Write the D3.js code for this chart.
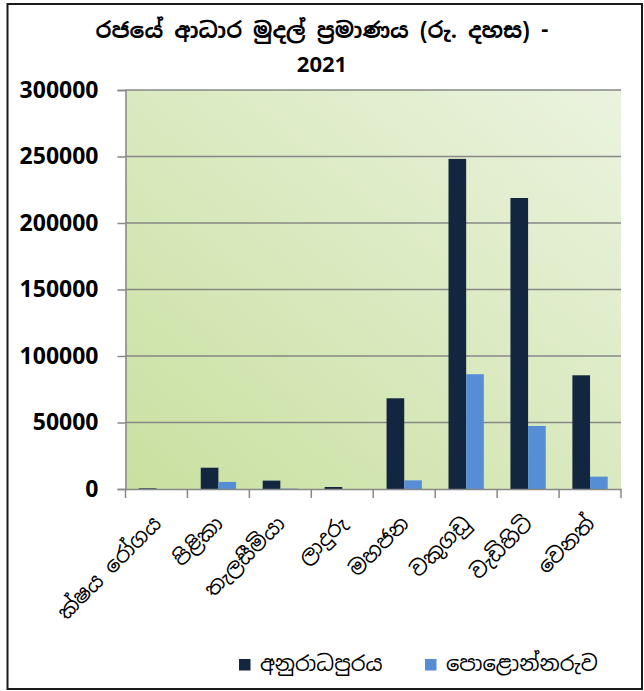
<!DOCTYPE html>
<html>
<head>
<meta charset="utf-8">
<script src="https://cdn.jsdelivr.net/npm/d3@7"></script>
<style>
  html, body { margin: 0; padding: 0; background: #fff; }
  svg { display: block; }
  text { font-family: "Noto Sans Sinhala", "Iskoola Pota", "Noto Sans", "Open Sans", sans-serif; }
</style>
</head>
<body>
<svg id="chart" width="644" height="691"></svg>
<script>
const titleLines = ["රජයේ ආධාර  මුදල් ප්‍රමාණය (රු. දහස) -", "2021"];
const categories = ["ක්ෂය රෝගය", "පිළිකා", "තැලසීමියා", "ලාදුරු", "මහජන", "වකුගඩු", "වැඩිහිටි", "වෙනත්"];
const seriesNames = ["අනුරාධපුරය", "පොළොන්නරුව"];
const anuradhapura = [500, 16000, 6300, 1500, 68200, 248200, 218800, 85500];
const polonnaruwa = [0, 5300, 300, 0, 6500, 86300, 47400, 9300];
const yTicks = [0, 50000, 100000, 150000, 200000, 250000, 300000];
const colors = ["#12263F", "#558ED5"];

const svg = d3.select("#chart");
const plot = { left: 125.5, right: 621, top: 90, bottom: 489 };

// outer frame
svg.append("rect").attr("x", 7.5).attr("y", 4).attr("width", 634.5).attr("height", 685)
  .attr("fill", "#fff").attr("stroke", "#1a1a1a").attr("stroke-width", 2);

// gradient background for plot area
const defs = svg.append("defs");
const grad = defs.append("linearGradient").attr("id", "bg")
  .attr("x1", "0%").attr("y1", "100%").attr("x2", "100%").attr("y2", "0%");
grad.append("stop").attr("offset", "0%").attr("stop-color", "#C9E0A0");
grad.append("stop").attr("offset", "100%").attr("stop-color", "#EBF3DF");

svg.append("rect").attr("x", plot.left).attr("y", plot.top)
  .attr("width", plot.right - plot.left).attr("height", plot.bottom - plot.top)
  .attr("fill", "url(#bg)");

const x0 = d3.scaleBand().domain(categories).range([plot.left, plot.right]).padding(0);
const inset = x0.bandwidth() * 0.215;
const x1 = d3.scaleBand().domain(seriesNames).range([inset, x0.bandwidth() - inset]).padding(0);
const y = d3.scaleLinear().domain([0, 300000]).range([plot.bottom, plot.top]);

// gridlines
svg.append("g").selectAll("line").data(yTicks.filter(d => d > 0)).join("line")
  .attr("x1", plot.left).attr("x2", plot.right)
  .attr("y1", d => y(d)).attr("y2", d => y(d))
  .attr("stroke", "#878787").attr("stroke-width", 1.5);

// bars
const data = categories.map((c, i) => ({ cat: c, vals: [anuradhapura[i], polonnaruwa[i]] }));
const groups = svg.append("g").selectAll("g").data(data).join("g")
  .attr("transform", d => `translate(${x0(d.cat)},0)`);
groups.selectAll("rect").data(d => d.vals.map((v, j) => ({ s: seriesNames[j], v, j })))
  .join("rect")
  .attr("x", d => x1(d.s)).attr("width", x1.bandwidth())
  .attr("y", d => y(d.v)).attr("height", d => y(0) - y(d.v))
  .attr("fill", d => colors[d.j]);

// y axis
const yAxis = svg.append("g").attr("transform", `translate(${plot.left},0)`)
  .call(d3.axisLeft(y).tickValues(yTicks).tickSize(8).tickPadding(19).tickFormat(d3.format("d")));
yAxis.select(".domain").attr("stroke", "#878787").attr("stroke-width", 1.5);
yAxis.selectAll(".tick line").attr("stroke", "#878787").attr("stroke-width", 1.5);
yAxis.selectAll(".tick text").attr("fill", "#000")
  .style("font-family", "'Open Sans', sans-serif").style("font-weight", "700").style("font-size", "23px");

// x axis
const xAxis = svg.append("g").attr("transform", `translate(0,${plot.bottom})`)
  .call(d3.axisBottom(x0).tickSize(0).tickFormat(""));
xAxis.select(".domain").attr("stroke", "#878787").attr("stroke-width", 1.5);
const tickPos = categories.map(c => x0(c)).concat([x0(categories[categories.length - 1]) + x0.bandwidth()]);
svg.append("g").selectAll("line").data(tickPos).join("line")
  .attr("x1", d => d).attr("x2", d => d)
  .attr("y1", plot.bottom).attr("y2", plot.bottom + 9)
  .attr("stroke", "#878787").attr("stroke-width", 1.5);

// x labels rotated
svg.append("g").selectAll("text").data(categories).join("text")
  .attr("transform", d => `translate(${x0(d) + x0.bandwidth() / 2 + 6},${plot.bottom + 36}) rotate(-45)`)
  .attr("text-anchor", "end")
  .style("font-size", "21px").attr("fill", "#000")
  .text(d => d);

// title
svg.append("g").selectAll("text").data(titleLines).join("text")
  .attr("x", 322).attr("y", (d, i) => 38 + i * 34)
  .attr("text-anchor", "middle")
  .style("font-size", "22px").style("font-weight", "700").attr("fill", "#000")
  .text(d => d);

// legend
const legendX = [239, 425];
const lg = svg.append("g").selectAll("g").data(seriesNames).join("g")
  .attr("transform", (d, i) => `translate(${legendX[i]},659)`);
lg.append("rect").attr("width", 11.5).attr("height", 11.5).attr("fill", (d, i) => colors[i]);
lg.append("text").attr("x", 21).attr("y", 12).style("font-size", "21px").attr("fill", "#000").text(d => d);
</script>
</body>
</html>
